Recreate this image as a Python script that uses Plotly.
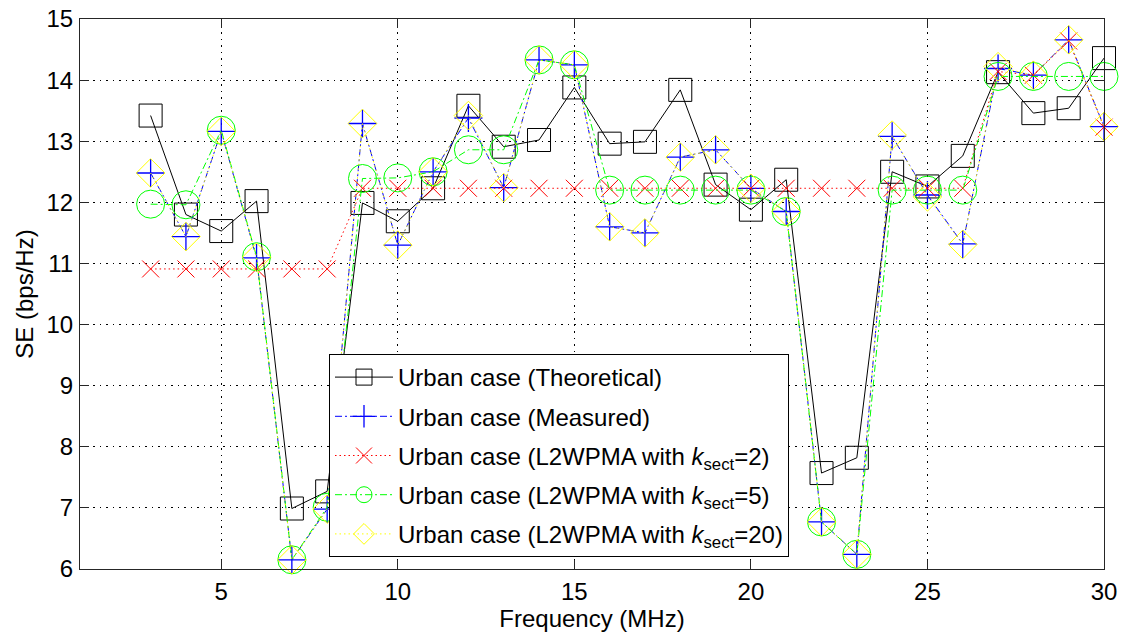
import plotly.graph_objects as go

freq = [3, 4, 5, 6, 7, 8, 9, 10, 11, 12, 13, 14, 15, 16, 17, 18, 19, 20,
        21, 22, 23, 24, 25, 26, 27, 28, 29, 30]

theoretical = [13.42, 11.80, 11.53, 12.02, 6.99, 7.27, 11.99, 11.69, 12.23, 13.58,
               12.91, 13.02, 13.88, 12.96, 12.99, 13.84, 12.29, 11.88, 12.37, 7.57,
               7.82, 12.50, 12.26, 12.76, 14.13, 13.46, 13.54, 14.36]
measured = [12.48, 11.44, 13.16, 11.09, 6.15, 6.98, 13.29, 11.30, 12.50, 13.38,
            12.24, 14.33, 14.25, 11.60, 11.50, 12.74, 12.86, 12.23, 11.85, 6.77,
            6.24, 13.08, 12.12, 11.32, 14.19, 14.08, 14.66, 13.24]
k_sect_2 = [10.91, 10.91, 10.91, 10.91, 10.91, 10.91, 12.23, 12.23, 12.23, 12.23,
            12.23, 12.23, 12.23, 12.23, 12.23, 12.23, 12.23, 12.23, 12.23, 12.23,
            12.23, 12.23, 12.23, 12.23, 14.14, 14.08, 14.64, 13.23]
k_sect_5 = [11.97, 11.96, 13.18, 11.11, 6.15, 7.01, 12.39, 12.40, 12.50, 12.86,
            12.86, 14.33, 14.25, 12.20, 12.20, 12.20, 12.20, 12.20, 11.85, 6.77,
            6.24, 12.20, 12.20, 12.20, 14.06, 14.06, 14.06, 14.06]
k_sect_20 = [12.48, 11.44, 13.16, 11.10, 6.15, 6.98, 13.29, 11.30, 12.50, 13.42,
             12.24, 14.33, 14.25, 11.60, 11.50, 12.74, 12.86, 12.23, 11.85, 6.77,
             6.24, 13.10, 12.09, 11.31, 14.22, 14.08, 14.66, 13.24]

x_ticks = [5, 10, 15, 20, 25, 30]
y_ticks = [6, 7, 8, 9, 10, 11, 12, 13, 14, 15]

FONT = "Arial, Liberation Sans, Helvetica, sans-serif"
FS = 24

fig = go.Figure()

fig.add_trace(go.Scatter(
    x=freq, y=theoretical, mode="lines+markers",
    name="Urban case (Theoretical)", legendgroup="g1",
    line=dict(color="#000000", width=1),
    marker=dict(symbol="square-open", size=23, color="#000000",
                line=dict(color="#000000", width=1)),
    cliponaxis=False))
fig.add_trace(go.Scatter(
    x=freq, y=measured, mode="lines+markers",
    name="Urban case (Measured)", legendgroup="g2",
    line=dict(color="#0000ff", width=1, dash="7px,3px,2px,3px"),
    marker=dict(symbol="cross-thin-open", size=20, color="#0000ff",
                line=dict(color="#0000ff", width=1.3)),
    cliponaxis=False))
fig.add_trace(go.Scatter(
    x=freq, y=k_sect_2, mode="lines+markers",
    name="Urban case (L2WPMA with <i>k</i><sub>sect</sub>=2)", legendgroup="g3",
    line=dict(color="#ff0000", width=1, dash="1.5px,3px"),
    marker=dict(symbol="x-thin-open", size=17, color="#ff0000",
                line=dict(color="#ff0000", width=1)),
    cliponaxis=False))
fig.add_trace(go.Scatter(
    x=freq, y=k_sect_5, mode="lines+markers",
    name="Urban case (L2WPMA with <i>k</i><sub>sect</sub>=5)", legendgroup="g4",
    line=dict(color="#00ff00", width=1, dash="7px,3px,2px,3px"),
    marker=dict(symbol="circle-open", size=28, color="#00ff00",
                line=dict(color="#00ff00", width=1)),
    cliponaxis=False))
fig.add_trace(go.Scatter(
    x=freq, y=k_sect_20, mode="lines+markers",
    name="Urban case (L2WPMA with <i>k</i><sub>sect</sub>=20)", legendgroup="g5",
    line=dict(color="#ffff00", width=1, dash="1.5px,3px"),
    marker=dict(symbol="diamond-open", size=22, color="#ffff00",
                line=dict(color="#ffff00", width=1)),
    cliponaxis=False))

axis_common = dict(
    showline=True, linecolor="#262626", linewidth=1, mirror="ticks",
    ticks="inside", ticklen=9, tickcolor="#262626", tickwidth=1,
    showgrid=True, gridcolor="#000000", gridwidth=1, griddash="1.5px,5px",
    zeroline=False, automargin=False,
    tickfont=dict(family=FONT, size=FS, color="#000000"),
)

fig.update_xaxes(
    range=[1, 30], tickvals=x_ticks, ticktext=[str(v) for v in x_ticks],
    ticklabelstandoff=1,
    title=dict(text="Frequency (MHz)", font=dict(family=FONT, size=FS, color="#000000"),
               standoff=9),
    **axis_common)
fig.update_yaxes(
    range=[6, 15], tickvals=y_ticks, ticktext=[str(v) for v in y_ticks],
    ticklabelstandoff=1,
    title=dict(text="SE (bps/Hz)", font=dict(family=FONT, size=FS, color="#000000"),
               standoff=6),
    **axis_common)

fig.update_layout(
    width=1123, height=632,
    margin=dict(l=80, r=19, t=19, b=63),
    paper_bgcolor="white", plot_bgcolor="white",
    font=dict(family=FONT, size=FS, color="#000000"),
    showlegend=True,
    legend=dict(
        x=(329 - 80) / 1024, y=(569 - 354) / 550, xanchor="left", yanchor="top",
        bgcolor="white", bordercolor="#000000", borderwidth=1,
        font=dict(family=FONT, size=FS, color="#000000"),
        itemwidth=58, tracegroupgap=5, traceorder="grouped",
    ),
)

fig.write_html("out.html")
